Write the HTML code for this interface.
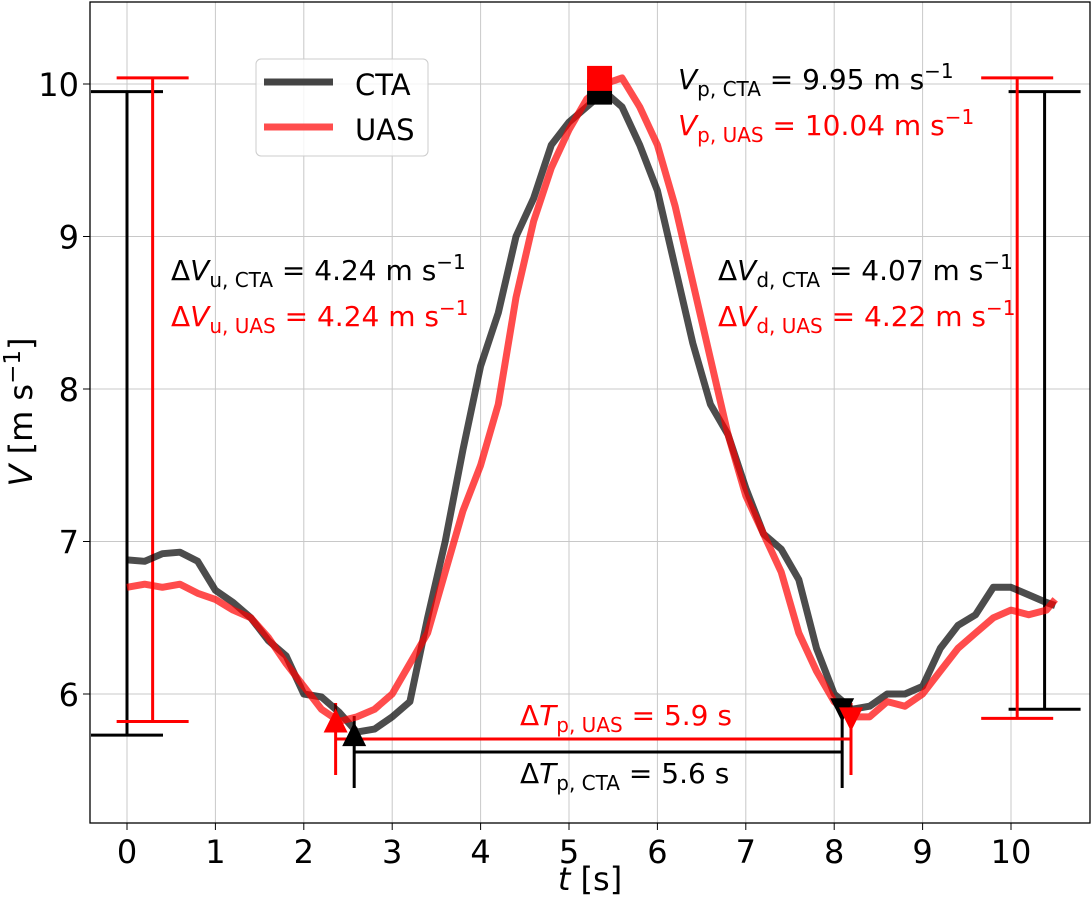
<!DOCTYPE html>
<html><head><meta charset="utf-8"><style>
html,body{margin:0;padding:0;background:#fff;}
svg{display:block;font-family:"DejaVu Sans","Liberation Sans",sans-serif;}
</style></head><body>
<svg id="chart" width="1092" height="898" viewBox="0 0 1092 898">
<g id="grid"></g>
<g id="ticks"></g>
<g id="annot"></g>
<g id="series"></g>
<g id="markers"></g>
<rect x="90" y="2" width="1000" height="821" fill="none" stroke="#000" stroke-width="1.3"/>
<g>
<rect x="256" y="59" width="172" height="97" rx="5" fill="#fff" fill-opacity="0.8" stroke="#ccc"/>
<line x1="264" y1="82" x2="333" y2="82" stroke="#444" stroke-width="7"/>
<text x="355" y="95" font-size="29">CTA</text>
<line x1="264" y1="127" x2="333" y2="127" stroke="#ff4d4d" stroke-width="7"/>
<text x="355" y="140" font-size="29">UAS</text>
</g>
<g font-size="28">
<text x="678" y="89" fill="#000"><tspan font-style="italic">V</tspan><tspan font-size="20" dy="7">p, CTA</tspan><tspan dy="-7"> = 9.95 m s</tspan><tspan font-size="20" dy="-11">−1</tspan></text>
<text x="678" y="135" fill="#f00"><tspan font-style="italic">V</tspan><tspan font-size="20" dy="7">p, UAS</tspan><tspan dy="-7"> = 10.04 m s</tspan><tspan font-size="20" dy="-11">−1</tspan></text>
<text x="171" y="280" fill="#000">Δ<tspan font-style="italic">V</tspan><tspan font-size="20" dy="7">u, CTA</tspan><tspan dy="-7"> = 4.24 m s</tspan><tspan font-size="20" dy="-11">−1</tspan></text>
<text x="171" y="326" fill="#f00">Δ<tspan font-style="italic">V</tspan><tspan font-size="20" dy="7">u, UAS</tspan><tspan dy="-7"> = 4.24 m s</tspan><tspan font-size="20" dy="-11">−1</tspan></text>
<text x="718" y="280" fill="#000">Δ<tspan font-style="italic">V</tspan><tspan font-size="20" dy="7">d, CTA</tspan><tspan dy="-7"> = 4.07 m s</tspan><tspan font-size="20" dy="-11">−1</tspan></text>
<text x="718" y="326" fill="#f00">Δ<tspan font-style="italic">V</tspan><tspan font-size="20" dy="7">d, UAS</tspan><tspan dy="-7"> = 4.22 m s</tspan><tspan font-size="20" dy="-11">−1</tspan></text>
<text x="520" y="725" fill="#f00">Δ<tspan font-style="italic">T</tspan><tspan font-size="20" dy="7">p, UAS</tspan><tspan dy="-7"> = 5.9 s</tspan></text>
<text x="520" y="783" fill="#000">Δ<tspan font-style="italic">T</tspan><tspan font-size="20" dy="7">p, CTA</tspan><tspan dy="-7"> = 5.6 s</tspan></text>
</g>
<text x="590" y="890" font-size="32" text-anchor="middle"><tspan font-style="italic">t</tspan> [s]</text>
<text transform="translate(32,412) rotate(-90)" font-size="32" text-anchor="middle"><tspan font-style="italic">V</tspan> [m s<tspan font-size="23" dy="-12">−1</tspan><tspan dy="12">]</tspan></text>
</svg>
<script>
const xTicks=[0,1,2,3,4,5,6,7,8,9,10];
const yTicks=[6,7,8,9,10];
const times=[0,0.2,0.4,0.6,0.8,1.0,1.2,1.4,1.6,1.8,2.0,2.2,2.4,2.6,2.8,3.0,3.2,3.4,3.6,3.8,4.0,4.2,4.4,4.6,4.8,5.0,5.2,5.4,5.6,5.8,6.0,6.2,6.4,6.6,6.8,7.0,7.2,7.4,7.6,7.8,8.0,8.2,8.4,8.6,8.8,9.0,9.2,9.4,9.6,9.8,10.0,10.2,10.4,10.5];
const ctaValues=[6.88,6.87,6.92,6.93,6.87,6.68,6.6,6.5,6.35,6.25,6.0,5.98,5.88,5.75,5.77,5.85,5.95,6.5,7.0,7.6,8.15,8.5,9.0,9.25,9.6,9.75,9.85,9.95,9.85,9.6,9.3,8.8,8.3,7.9,7.7,7.35,7.05,6.95,6.75,6.3,6.0,5.9,5.92,6.0,6.0,6.05,6.3,6.45,6.52,6.7,6.7,6.65,6.6,6.58];
const uasValues=[6.7,6.72,6.7,6.72,6.66,6.62,6.55,6.5,6.37,6.2,6.05,5.9,5.82,5.85,5.9,6.0,6.2,6.4,6.8,7.2,7.5,7.9,8.6,9.1,9.45,9.7,9.9,10.0,10.04,9.85,9.6,9.2,8.7,8.2,7.7,7.3,7.05,6.8,6.4,6.15,5.95,5.85,5.85,5.95,5.92,6.0,6.15,6.3,6.4,6.5,6.55,6.52,6.55,6.62];
const peakTimes=[5.34,5.34];          // CTA, UAS
const peakValues=[9.95,10.04];
const startTimes=[2.57,2.36];
const startValues=[5.73,5.82];
const endTimes=[8.09,8.19];
const endValues=[5.90,5.84];
const NS='http://www.w3.org/2000/svg';
const X=t=>127+t*88.4;
const Y=v=>84+(10-v)*152.5;
function mk(tag,attrs,parent){const e=document.createElementNS(NS,tag);for(const k in attrs)e.setAttribute(k,attrs[k]);parent.appendChild(e);return e;}
const grid=document.getElementById('grid'),ticks=document.getElementById('ticks');
xTicks.forEach(t=>{
  const g=mk('line',{x1:X(t),x2:X(t),y1:2,y2:823,stroke:'#c8c8c8','stroke-width':1},grid);
  
  
  const tk=mk('line',{x1:X(t),x2:X(t),y1:823,y2:830,stroke:'#000','stroke-width':1},ticks);
  
  
  const tx=mk('text',{x:X(t),y:863,'font-size':32,'text-anchor':'middle'},ticks);
  tx.textContent=t;
  
  
});
yTicks.forEach(v=>{
  const g=mk('line',{x1:90,x2:1090,y1:Y(v),y2:Y(v),stroke:'#c8c8c8','stroke-width':1},grid);
  
  
  const tk=mk('line',{x1:83,x2:90,y1:Y(v),y2:Y(v),stroke:'#000','stroke-width':1},ticks);
  
  
  const tx=mk('text',{x:79,y:Y(v)+12,'font-size':32,'text-anchor':'end'},ticks);
  tx.textContent=v;
  
  
});
const an=document.getElementById('annot');
function ln(x1,y1,x2,y2,c,name){const l=mk('line',{x1,y1,x2,y2,stroke:c,'stroke-width':3},an);}
const cols=['#000','#f00'];
const leftX=[0,0.29],rightX=[10.38,10.07];
[0,1].forEach(i=>{
  const xl=X(leftX[i]);
  ln(xl,Y(peakValues[i]),xl,Y(startValues[i]),cols[i],'upslope-bar');
  ln(xl-36,Y(peakValues[i]),xl+36,Y(peakValues[i]),cols[i],'upslope-cap-top');
  ln(xl-36,Y(startValues[i]),xl+36,Y(startValues[i]),cols[i],'upslope-cap-bottom');
  const xr=X(rightX[i]);
  ln(xr,Y(peakValues[i]),xr,Y(endValues[i]),cols[i],'downslope-bar');
  ln(xr-36,Y(peakValues[i]),xr+36,Y(peakValues[i]),cols[i],'downslope-cap-top');
  ln(xr-36,Y(endValues[i]),xr+36,Y(endValues[i]),cols[i],'downslope-cap-bottom');
});
const durY=[752,739];
[0,1].forEach(i=>{
  const xs=X(startTimes[i]),xe=X(endTimes[i]),y=durY[i];
  ln(xs,y,xe,y,cols[i],'duration-bar');
  ln(xs,y-36,xs,y+36,cols[i],'duration-start-tick');
  ln(xe,y-36,xe,y+36,cols[i],'duration-end-tick');
});
const ser=document.getElementById('series');
function path(vals,c,name){
  const d=times.map((t,i)=>(i?'L':'M')+X(t).toFixed(1)+','+Y(vals[i]).toFixed(1)).join(' ');
  const p=mk('path',{d,fill:'none',stroke:c,'stroke-width':7,'stroke-opacity':0.7,'stroke-linejoin':'round'},ser);
  
  
}
path(ctaValues,'#000','cta-line');
path(uasValues,'#f00','uas-line');
const mkG=document.getElementById('markers');
[0,1].forEach(i=>{
  const c=cols[i];
  const sx=X(peakTimes[i]),sy=Y(peakValues[i]);
  const s=mk('rect',{x:sx-12,y:sy-12,width:25,height:25,fill:c},mkG);
  
  
  const ux=X(startTimes[i]),uy=Y(startValues[i]);
  const u=mk('polygon',{points:`${ux-12},${uy+11} ${ux+12},${uy+11} ${ux},${uy-13}`,fill:c},mkG);
  
  
  const dx=X(endTimes[i]),dy=Y(endValues[i]);
  const dn=mk('polygon',{points:`${dx-12},${dy-11} ${dx+12},${dy-11} ${dx},${dy+13}`,fill:c},mkG);
  
  
});
</script>
</body></html>
